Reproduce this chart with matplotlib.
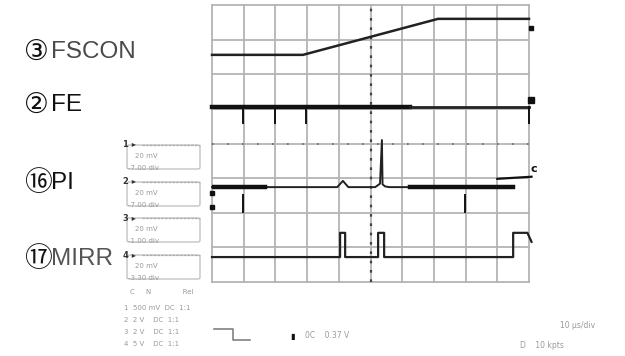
import matplotlib.pyplot as plt
from matplotlib.patches import FancyBboxPatch
from matplotlib.lines import Line2D

# traces, time and level in screen divisions (10 x 8)
t_fscon = [0, 2.87, 7.13, 10]
v_fscon = [6.56, 6.56, 7.6, 7.6]

t_fe_thick = [0, 6.25]
t_fe_thin = [6.25, 10]
v_fe = 5.05
t_fe_ticks = [0.98, 1.99, 2.97, 10]

t_pi = [0, 3.95, 4.13, 4.3, 5.15, 5.3, 5.36, 5.38, 5.46, 5.6, 9.5]
v_pi = [2.74, 2.74, 2.92, 2.74, 2.74, 2.84, 4.1, 2.82, 2.76, 2.74, 2.74]
pi_thick = [(0, 1.67), (6.25, 9.5)]
t_pi_tail = [9.0, 10.08]
v_pi_tail = [2.98, 3.04]
t_pi_ticks = [0.98, 7.98]

t_mirr = [0, 4.04, 4.04, 4.2, 4.2, 5.24, 5.24, 5.43, 5.43, 9.5, 9.5, 9.95, 10.08]
v_mirr = [0.72, 0.72, 1.42, 1.42, 0.72, 0.72, 1.42, 1.42, 0.72, 0.72, 1.42, 1.42, 1.16]

label_num = ['③', '②', '⑯', '⑰']
label_name = ['FSCON', 'FE', 'PI', 'MIRR']
label_y = [52, 105, 183, 259]
label_col = ['#4a4a4a', '#111111', '#111111', '#555555']

box_head = ['1', '2', '3', '4']
box_y = [145, 182, 218, 255]
box_scale = ['20 mV', '20 mV', '20 mV', '20 mV']
box_offs = ['-7.00 div', '-7.00 div', '-1.00 div', '-3.30 div']
rows_y = [308, 320, 332, 344]
rows_txt = ['1  500 mV  DC  1:1', '2  2 V    DC  1:1', '3  2 V    DC  1:1', '4  5 V    DC  1:1']

W, H = 625, 356


def fx(x):
    return x / W


def fy(y):
    return 1 - y / H


fig = plt.figure(figsize=(6.25, 3.56), dpi=100)
fig.patch.set_facecolor('white')
ax = fig.add_axes([fx(212), fy(282), fx(529) - fx(212), fy(5) - fy(282)])
ax.set_xlim(0, 10)
ax.set_ylim(0, 8)
ax.axis('off')

grid_c = '#b4b4b4'
for i in range(11):
    ax.plot([i, i], [0, 8], color=grid_c, lw=1.3, clip_on=False, zorder=1)
for j in range(9):
    ax.plot([0, 10], [j, j], color=grid_c, lw=1.3, clip_on=False, zorder=1)
ax.plot([5, 5], [0, 8], color='#444444', lw=1.6, ls=(0, (1.2, 3)), zorder=2)
ax.plot([0, 10], [4, 4], color='#666666', lw=1.2, ls=(0, (1, 8)), zorder=2)

ax.plot(t_fscon, v_fscon, color='#222222', lw=1.8, clip_on=False, zorder=3)

ax.plot(t_fe_thick, [v_fe, v_fe], color='#111111', lw=3.2, clip_on=False, zorder=3)
ax.plot(t_fe_thin, [v_fe, v_fe], color='#222222', lw=2.0, clip_on=False, zorder=3)
for t in t_fe_ticks:
    ax.plot([t, t], [v_fe, v_fe - 0.46], color='#111111', lw=1.4, clip_on=False, zorder=3)

ax.plot(t_pi, v_pi, color='#222222', lw=1.4, clip_on=False, zorder=3)
for a, b in pi_thick:
    ax.plot([a, b], [v_pi[0], v_pi[0]], color='#111111', lw=3.2, zorder=3)
ax.plot(t_pi_tail, v_pi_tail, color='#111111', lw=1.6, clip_on=False, zorder=3)
for t in t_pi_ticks:
    ax.plot([t, t], [2.51, 2.02], color='#111111', lw=1.4, zorder=3)

ax.plot(t_mirr, v_mirr, color='#222222', lw=1.6, clip_on=False, zorder=3)

# channel ground markers
ax.plot([10.05], [7.33], marker='s', ms=3.5, color='#111111', clip_on=False)
ax.plot([10.05], [5.25], marker='s', ms=4, color='#111111', clip_on=False)
ax.plot([0], [2.57], marker='s', ms=3, color='#111111', clip_on=False)
ax.plot([0], [2.17], marker='s', ms=3, color='#111111', clip_on=False)
ax.text(10.05, 3.25, 'c', fontsize=8, fontweight='bold', color='#111111', va='center', ha='left')

fam = ['Liberation Sans', 'DejaVu Sans', 'Noto Sans CJK JP']
for num, name, y, c in zip(label_num, label_name, label_y, label_col):
    fig.text(fx(24), fy(y), num, fontsize=20, color='#111111',
             va='center', ha='left', family=['DejaVu Sans', 'Noto Sans CJK JP'])
    fig.text(fx(51), fy(y), name, fontsize=17.5, color=c, va='center', ha='left', family=fam)

small = dict(fontsize=5, color='#9a9a9a', family='DejaVu Sans')
for h, y, s, o in zip(box_head, box_y, box_scale, box_offs):
    box = FancyBboxPatch((fx(127), fy(y + 24)), fx(200) - fx(127), fy(y) - fy(y + 24),
                         boxstyle='round,pad=0,rounding_size=0.004', transform=fig.transFigure,
                         fill=False, ec='#bdbdbd', lw=0.9)
    fig.patches.append(box)
    fig.text(fx(123), fy(y), h + ' ▸', fontsize=6, fontweight='bold', color='#333333', va='center')
    fig.lines.append(Line2D([fx(142), fx(200)], [fy(y), fy(y)], transform=fig.transFigure,
                            color='#aaaaaa', lw=0.9, ls=(0, (2, 1))))
    fig.text(fx(135), fy(y + 11), s, va='center', **small)
    fig.text(fx(128), fy(y + 23), o, va='center', **small)

fig.text(fx(130), fy(292), 'C     N              Rel', va='center', **small)
for y, txt in zip(rows_y, rows_txt):
    fig.text(fx(124), fy(y), txt, va='center', **small)

fig.lines.append(Line2D([fx(214), fx(233), fx(233), fx(250)], [fy(329), fy(329), fy(340), fy(340)],
                        transform=fig.transFigure, color='#777777', lw=1.1))
fig.text(fx(290), fy(336), '▮', fontsize=6, color='#111111', va='center')
fig.text(fx(305), fy(336), '0C    0.37 V', va='center', fontsize=5.5, color='#9a9a9a')
fig.text(fx(560), fy(325), '10 μs/div', va='center', fontsize=5.5, color='#9a9a9a')
fig.text(fx(520), fy(345), 'D    10 kpts', va='center', fontsize=5.5, color='#9a9a9a')

fig.savefig('out.png', dpi=100, facecolor='white')
